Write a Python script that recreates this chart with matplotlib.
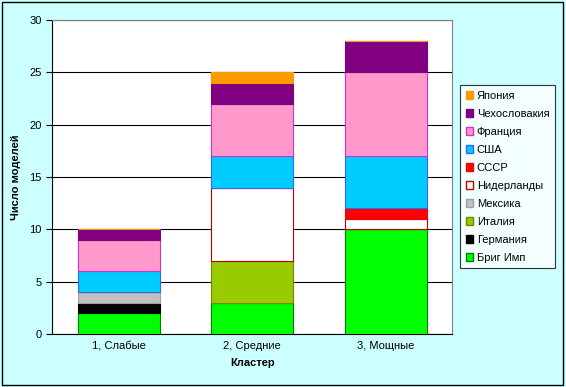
import matplotlib
matplotlib.use('Agg')
import matplotlib.pyplot as plt
from matplotlib.patches import Rectangle, Patch
import numpy as np

plt.rcParams['font.family'] = ['Liberation Sans', 'DejaVu Sans']

clusters = ['1, Слабые', '2, Средние', '3, Мощные']
# bottom to top
series = ['Бриг Имп', 'Германия', 'Италия', 'Мексика', 'Нидерланды',
          'СССР', 'США', 'Франция', 'Чехословакия', 'Япония']
values = {
    'Бриг Имп':     [2, 3, 10],
    'Германия':     [1, 0, 0],
    'Италия':       [0, 4, 0],
    'Мексика':      [1, 0, 0],
    'Нидерланды':   [0, 7, 1],
    'СССР':         [0, 0, 1],
    'США':          [2, 3, 5],
    'Франция':      [3, 5, 8],
    'Чехословакия': [1, 2, 3],
    'Япония':       [0, 1, 0],
}
fills = {
    'Бриг Имп': '#00FF00', 'Германия': '#000000', 'Италия': '#99CC00',
    'Мексика': '#C0C0C0', 'Нидерланды': '#FFFFFF', 'СССР': '#FF0000',
    'США': '#00CCFF', 'Франция': '#FF99CC', 'Чехословакия': '#800080',
    'Япония': '#FF9900',
}
edges = {
    'Бриг Имп': '#008000', 'Германия': '#000000', 'Италия': '#808000',
    'Мексика': '#A0A0A0', 'Нидерланды': '#C00000', 'СССР': '#FF0000',
    'США': '#3366FF', 'Франция': '#CC33CC', 'Чехословакия': '#800080',
    'Япония': '#FF9900',
}

fig = plt.figure(figsize=(5.66, 3.87), dpi=100, facecolor='#CCFFFF')
fig.patches.append(Rectangle((0.004, 0.006), 0.991, 0.988, transform=fig.transFigure,
                             fill=False, edgecolor='black', linewidth=1))
ax = fig.add_axes([0.092, 0.137, 0.707, 0.811])
ax.set_facecolor('white')

x = np.arange(len(clusters))
bottom = np.zeros(len(clusters))
handles = []
for s in series:
    v = np.array(values[s], dtype=float)
    ax.bar(x, v, 0.615, bottom=bottom, color=fills[s], edgecolor=edges[s],
           linewidth=0.8, zorder=3)
    bottom += v
    handles.append(Patch(facecolor=fills[s], edgecolor=edges[s], label=s))

ax.set_xlim(-0.5, 2.5)
ax.set_ylim(0, 30)
ax.set_yticks(range(0, 31, 5))
ax.set_xticks(x)
ax.set_xticklabels(clusters)
ax.yaxis.grid(True, color='black', linewidth=0.8, zorder=0)
ax.tick_params(axis='both', labelsize=8, direction='out', length=4, width=0.8)
ax.tick_params(axis='x', length=0, pad=5)
for side in ['top', 'right']:
    ax.spines[side].set_color('#808080')
for side in ['left', 'bottom']:
    ax.spines[side].set_color('black')

ax.set_xlabel('Кластер', fontsize=8, fontweight='bold', labelpad=5)
ax.set_ylabel('Число моделей', fontsize=8, fontweight='bold', labelpad=6)

leg = fig.legend(handles[::-1], series[::-1], loc='upper left',
                 bbox_to_anchor=(0.813, 0.78), fontsize=8, frameon=True,
                 fancybox=False, edgecolor='black', handlelength=0.7,
                 handleheight=0.7, handletextpad=0.3, labelspacing=0.72,
                 borderpad=0.5, borderaxespad=0)
leg.get_frame().set_linewidth(0.8)

fig.savefig('out.png', dpi=100, facecolor=fig.get_facecolor())
